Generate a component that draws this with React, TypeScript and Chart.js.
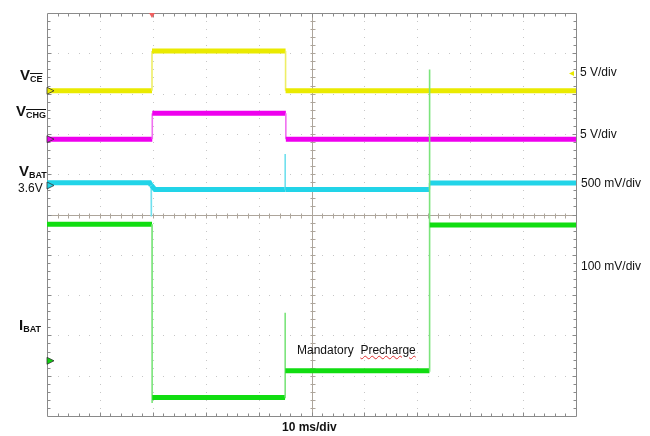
import React, { useEffect, useRef } from "react";
import { Chart, registerables } from "chart.js";

Chart.register(...registerables);

// Time axis in ms (10 ms/div, 10 divisions); vertical axis in screen divisions (0 = bottom, 10 = top)
const xTicksMs = [0, 10, 20, 30, 40, 50, 60, 70, 80, 90, 100];
const yTicksDiv = [0, 1, 2, 3, 4, 5, 6, 7, 8, 9, 10];

// V_CE (yellow)
const vceTime = [0, 19.85, 19.85, 45.1, 45.1, 100];
const vceDiv = [8.07, 8.07, 9.06, 9.06, 8.07, 8.07];

// V_CHG (magenta)
const vchgTime = [0, 19.9, 19.9, 45.15, 45.15, 100];
const vchgDiv = [6.87, 6.87, 7.51, 7.51, 6.87, 6.87];

// V_BAT (cyan)
const vbatTime = [0, 19.4, 19.7, 19.7, 19.75, 20.4, 45.0, 45.0, 45.05, 72.3, 72.3, 100];
const vbatDiv = [5.79, 5.79, 5.72, 4.95, 5.72, 5.62, 5.62, 6.5, 5.62, 5.62, 5.78, 5.78];

// I_BAT (green)
const ibatTime = [0, 19.85, 19.85, 19.9, 45.0, 45.0, 45.05, 72.3, 72.3, 72.35, 100];
const ibatDiv = [4.76, 4.76, 0.32, 0.46, 0.46, 2.56, 1.12, 1.12, 8.6, 4.74, 4.74];

// Ground reference markers (left edge) and trigger markers
const groundLevels = [8.07, 6.87, 5.72, 1.37];
const groundColors = ["#e8e800", "#ee00ee", "#22d4e8", "#10d010"];
const triggerTimeMs = 19.85;
const triggerLevelDiv = 8.5;

const COLORS = {
  vce: { band: "#eaea00", edge: "#eeee66" },
  vchg: { band: "#ee00ee", edge: "#f070f0" },
  vbat: { band: "#22d4e8", edge: "#70e0ee" },
  ibat: { band: "#11dd11", edge: "#7ce47c" },
};

const font = 'Arial, "Liberation Sans", sans-serif';

function mk(t: number[], v: number[]) {
  return t.map((x, i) => ({ x, y: v[i] }));
}

function ds(label: string, t: number[], v: number[], c: { band: string; edge: string }, order: number) {
  return {
    label,
    data: mk(t, v),
    borderColor: c.band,
    borderWidth: 5,
    pointRadius: 0,
    tension: 0,
    fill: false,
    order,
    borderCapStyle: "butt",
    segment: {
      borderWidth: (ctx: any) => (Math.abs(ctx.p1.parsed.x - ctx.p0.parsed.x) < 0.1 ? 1.6 : 5),
      borderColor: (ctx: any) => (Math.abs(ctx.p1.parsed.x - ctx.p0.parsed.x) < 0.1 ? c.edge : c.band),
    },
  };
}

const scopePlugin = {
  id: "scopeGrid",
  beforeDatasetsDraw(chart: any) {
    const { ctx, chartArea: a, scales } = chart;
    const x = scales.x;
    const y = scales.y;
    ctx.save();
    // dotted graticule
    ctx.fillStyle = "#c6c6c6";
    xTicksMs.forEach((t) => {
      if (t === 0 || t === 100 || t === 50) return;
      const px = Math.round(x.getPixelForValue(t));
      for (let j = 1; j < 50; j++) {
        const py = Math.round(y.getPixelForValue(j * 0.2));
        ctx.fillRect(px, py, 1, 1);
      }
    });
    yTicksDiv.forEach((d) => {
      if (d === 0 || d === 10 || d === 5) return;
      const py = Math.round(y.getPixelForValue(d));
      for (let j = 1; j < 50; j++) {
        const px = Math.round(x.getPixelForValue(j * 2));
        ctx.fillRect(px, py, 1, 1);
      }
    });
    // center cross
    ctx.strokeStyle = "#ada59b";
    ctx.lineWidth = 1;
    const cx = Math.round(x.getPixelForValue(50)) + 0.5;
    const cy = Math.round(y.getPixelForValue(5)) + 0.5;
    ctx.beginPath();
    ctx.moveTo(cx, a.top);
    ctx.lineTo(cx, a.bottom);
    ctx.moveTo(a.left, cy);
    ctx.lineTo(a.right, cy);
    for (let j = 1; j < 50; j++) {
      const px = Math.round(x.getPixelForValue(j * 2)) + 0.5;
      ctx.moveTo(px, cy - 2);
      ctx.lineTo(px, cy + 3);
      const py = Math.round(y.getPixelForValue(j * 0.2)) + 0.5;
      ctx.moveTo(cx - 2, py);
      ctx.lineTo(cx + 3, py);
    }
    ctx.stroke();
    // frame
    ctx.strokeStyle = "#8a8a8a";
    const L = Math.round(a.left) + 0.5;
    const R = Math.round(a.right) + 0.5;
    const T = Math.round(a.top) + 0.5;
    const B = Math.round(a.bottom) + 0.5;
    ctx.beginPath();
    ctx.rect(L, T, R - L, B - T);
    for (let j = 1; j < 50; j++) {
      const px = Math.round(x.getPixelForValue(j * 2)) + 0.5;
      const len = j % 5 === 0 ? 4 : 3;
      ctx.moveTo(px, T);
      ctx.lineTo(px, T + len);
      ctx.moveTo(px, B);
      ctx.lineTo(px, B - len);
      const py = Math.round(y.getPixelForValue(j * 0.2)) + 0.5;
      ctx.moveTo(L, py);
      ctx.lineTo(L + len, py);
      ctx.moveTo(R, py);
      ctx.lineTo(R - len, py);
    }
    ctx.stroke();
    ctx.restore();
  },
  afterDatasetsDraw(chart: any) {
    const { ctx, chartArea: a, scales } = chart;
    const x = scales.x;
    const y = scales.y;
    ctx.save();
    // ground markers on left edge
    groundLevels.forEach((lv, i) => {
      const py = y.getPixelForValue(lv);
      const px = a.left;
      ctx.beginPath();
      ctx.moveTo(px, py - 3.5);
      ctx.lineTo(px + 7, py);
      ctx.lineTo(px, py + 3.5);
      ctx.closePath();
      ctx.fillStyle = groundColors[i];
      ctx.fill();
      ctx.strokeStyle = "#333";
      ctx.lineWidth = 0.8;
      ctx.stroke();
    });
    // trigger time marker (top)
    const tx = x.getPixelForValue(triggerTimeMs);
    ctx.beginPath();
    ctx.moveTo(tx - 3, a.top);
    ctx.lineTo(tx + 3, a.top);
    ctx.lineTo(tx, a.top + 5);
    ctx.closePath();
    ctx.fillStyle = "#f06060";
    ctx.fill();
    // trigger level marker (right)
    const ty = y.getPixelForValue(triggerLevelDiv);
    ctx.beginPath();
    ctx.moveTo(a.right - 2, ty - 2.5);
    ctx.lineTo(a.right - 2, ty + 2.5);
    ctx.lineTo(a.right - 7, ty);
    ctx.closePath();
    ctx.fillStyle = "#e8e800";
    ctx.fill();
    ctx.restore();
  },
};

function Label(props: { left: number; top: number; size: number; bold?: boolean; children: any }) {
  return (
    <div
      style={{
        position: "absolute",
        left: props.left,
        top: props.top,
        fontSize: props.size,
        lineHeight: props.size + "px",
        fontWeight: props.bold ? "bold" : "normal",
        fontFamily: font,
        color: "#111",
        whiteSpace: "pre",
      }}
    >
      {props.children}
    </div>
  );
}

const subStyle = (over: boolean): any => ({
  fontSize: 9,
  position: "relative",
  top: 2,
  textDecoration: over ? "overline" : "none",
});

export default function App() {
  const ref = useRef<HTMLCanvasElement | null>(null);
  useEffect(() => {
    if (!ref.current) return;
    const chart = new Chart(ref.current, {
      type: "line",
      data: {
        datasets: [
          ds("I_BAT", ibatTime, ibatDiv, COLORS.ibat, 0),
          ds("V_BAT", vbatTime, vbatDiv, COLORS.vbat, 1),
          ds("V_CHG", vchgTime, vchgDiv, COLORS.vchg, 2),
          ds("V_CE", vceTime, vceDiv, COLORS.vce, 3),
        ] as any,
      },
      options: {
        animation: false,
        responsive: false,
        maintainAspectRatio: false,
        layout: { padding: { left: 47, right: 74, top: 13, bottom: 20 } },
        scales: {
          x: { type: "linear", min: 0, max: 100, display: false },
          y: { type: "linear", min: 0, max: 10, display: false },
        },
        plugins: { legend: { display: false }, tooltip: { enabled: false } },
      } as any,
      plugins: [scopePlugin],
    });
    return () => chart.destroy();
  }, []);

  return (
    <div style={{ position: "fixed", left: 0, top: 0, width: 650, height: 436, background: "#fff" }}>
      <canvas ref={ref} width={650} height={436} style={{ position: "absolute", left: 0, top: 0 }} />
      <Label left={20} top={67} size={15} bold>
        V<span style={subStyle(true)}>CE</span>
      </Label>
      <Label left={16} top={103} size={15} bold>
        V<span style={subStyle(true)}>CHG</span>
      </Label>
      <Label left={19} top={163} size={15} bold>
        V<span style={subStyle(false)}>BAT</span>
      </Label>
      <Label left={18} top={182} size={12}>3.6V</Label>
      <Label left={19} top={317} size={15} bold>
        I<span style={subStyle(false)}>BAT</span>
      </Label>
      <Label left={580} top={66} size={12}>5 V/div</Label>
      <Label left={580} top={128} size={12}>5 V/div</Label>
      <Label left={581} top={177} size={12}>500 mV/div</Label>
      <Label left={581} top={260} size={12}>100 mV/div</Label>
      <Label left={282} top={421} size={12} bold>10 ms/div</Label>
      <Label left={297} top={344} size={12}>
        {"Mandatory  "}
        <span style={{ textDecoration: "underline wavy #e03030", textDecorationThickness: 1 }}>Precharge</span>
      </Label>
    </div>
  );
}
